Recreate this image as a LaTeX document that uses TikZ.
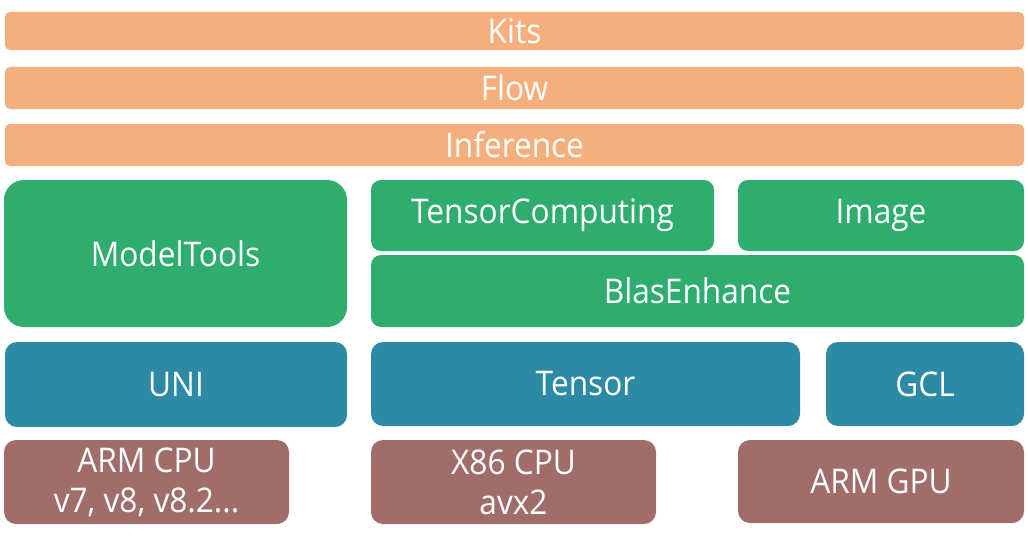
\documentclass[tikz,border=0pt]{standalone}
\usepackage{fontspec}
\setmainfont{Open Sans}[FakeStretch=0.93]
\usetikzlibrary{positioning}
\definecolor{LOrange}{HTML}{F4AF7C}
\definecolor{LGreen}{HTML}{2EAD6F}
\definecolor{LTeal}{HTML}{2D8AA5}
\definecolor{LBrown}{HTML}{A06D6B}
\tikzset{
    layer/.style = {rectangle, rounded corners=10pt, inner sep=0pt, outer sep=0pt,
        text=white, align=center,
        font=\fontsize{34}{40}\selectfont},
    top/.style = {layer, fill=LOrange, rounded corners=5pt,
        minimum width=1019pt},
    mid/.style = {layer, fill=LGreen},
    base/.style = {layer, fill=LTeal, rounded corners=12pt},
    hw/.style = {layer, fill=LBrown, rounded corners=12pt,
        minimum width=285pt, minimum height=84pt}
}

\begin{document}
\begin{tikzpicture}[x=1pt,y=-1pt]
    \useasboundingbox (0,0) rectangle (1028,543);
    % top layers
    \node[top, minimum height=38pt] (kits) at (514.5,31) {Kits};
    \node[top, minimum height=42pt] (flow) at (514.5,88) {Flow};
    \node[top, minimum height=42pt] (inference) at (514.5,145) {Inference};
    % compute layers
    \node[mid, rounded corners=20pt, minimum width=343pt, minimum height=147pt] (modeltools) at (175.5,253.5) {ModelTools};
    \node[mid, minimum width=343pt, minimum height=71pt] (tensorcomputing) at (542.5,215.5) {TensorComputing};
    \node[mid, minimum width=286pt, minimum height=71pt] (image) at (881,215.5) {Image};
    \node[mid, minimum width=653pt, minimum height=72pt] (blasenhance) at (697.5,291) {BlasEnhance};
    % base layers
    \node[base, minimum width=342pt, minimum height=85pt] (uni) at (176,384.5) {UNI};
    \node[base, minimum width=429pt, minimum height=84pt] (tensor) at (585.5,384) {Tensor};
    \node[base, minimum width=198pt, minimum height=84pt] (gcl) at (925,384) {GCL};
    % hardware
    \node[hw] (armcpu) at (146.5,482) {ARM CPU\\v7, v8, v8.2...};
    \node[hw] (x86cpu) at (513.5,482) {X86 CPU\\avx2};
    \node[hw, minimum width=286pt, minimum height=83pt] (armgpu) at (881,481.5) {ARM GPU};
\end{tikzpicture}
\end{document}
